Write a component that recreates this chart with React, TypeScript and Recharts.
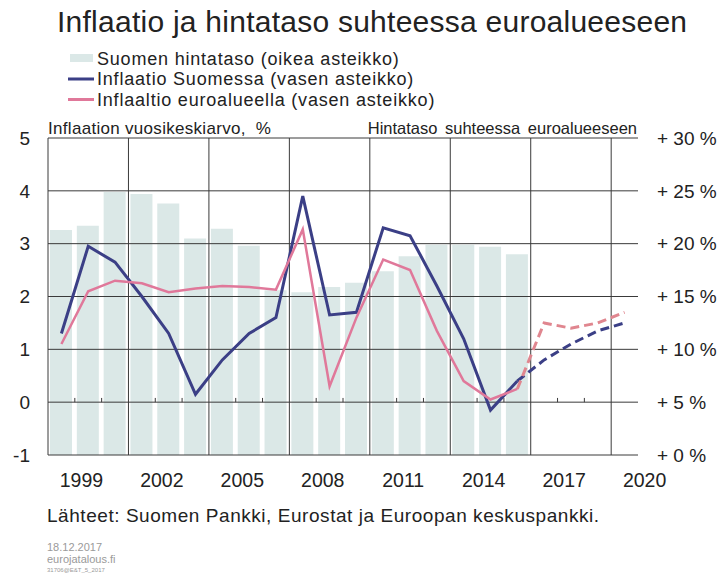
import React from "react";
import { ComposedChart, Bar, Line, XAxis, YAxis, ReferenceLine } from "recharts";

// Suomen hintataso suhteessa euroalueeseen (%), oikea asteikko
const YEARS = [1999, 2000, 2001, 2002, 2003, 2004, 2005, 2006, 2007, 2008, 2009, 2010, 2011, 2012, 2013, 2014, 2015, 2016];
const PRICE_LEVEL = [21.3, 21.7, 24.9, 24.7, 23.8, 20.5, 21.4, 19.8, 15.6, 15.4, 15.9, 16.3, 17.4, 18.8, 19.9, 19.9, 19.7, 19.0];
// inflaatio, vasen asteikko
const FI_INFLATION = [1.3, 2.95, 2.65, 2.0, 1.3, 0.15, 0.8, 1.3, 1.6, 3.9, 1.65, 1.7, 3.3, 3.15, 2.2, 1.2, -0.15, 0.4];
const EA_INFLATION = [1.1, 2.1, 2.3, 2.25, 2.08, 2.15, 2.2, 2.18, 2.13, 3.27, 0.3, 1.6, 2.7, 2.5, 1.35, 0.4, 0.05, 0.25];
// ennusteet (katkoviiva)
const FORECAST_YEARS = [2016, 2017, 2018, 2019, 2020];
const FI_FORECAST = [0.4, 0.8, 1.1, 1.35, 1.5];
const EA_FORECAST = [0.25, 1.5, 1.4, 1.5, 1.7];

const X_TICKS = [1999, 2002, 2005, 2008, 2011, 2014, 2017, 2020];
const LEFT_TICKS = [-1, 0, 1, 2, 3, 4, 5];
const RIGHT_TICKS = [0, 5, 10, 15, 20, 25, 30];
const GRID_YEARS = [1998.5, 2001.5, 2004.5, 2007.5, 2010.5, 2013.5, 2016.5, 2019.5];
const MINOR_TICK_YEARS = [1999.5, 2000.5, 2002.5, 2003.5, 2005.5, 2006.5, 2008.5, 2009.5, 2011.5, 2012.5, 2014.5, 2015.5, 2017.5, 2018.5];

const FONT = "'Liberation Sans', Arial, Helvetica, sans-serif";
const TEXT = "#222";
const FI_COLOR = "#3b3f86";
const EA_COLOR = "#e0789a";
const EA_DASH = "#e0868f";
const BAR_COLOR = "#dbe8e7";
const GRID = "#3a3a3a";

const allYears = Array.from(new Set([...YEARS, ...FORECAST_YEARS]));
const rows = allYears.map((year) => {
  const i = YEARS.indexOf(year);
  const f = FORECAST_YEARS.indexOf(year);
  return {
    year,
    level: i >= 0 ? PRICE_LEVEL[i] : undefined,
    fi: i >= 0 ? FI_INFLATION[i] : undefined,
    ea: i >= 0 ? EA_INFLATION[i] : undefined,
    fiF: f >= 0 ? FI_FORECAST[f] : undefined,
    eaF: f >= 0 ? EA_FORECAST[f] : undefined,
  };
});

function YearTick({ x, y, payload }: any) {
  return (
    <text
      x={x + 20}
      y={y}
      textAnchor="middle"
      dominantBaseline="central"
      fontSize={19.5}
      fontFamily={FONT}
      fill={TEXT}
    >
      {payload.value}
    </text>
  );
}

function Overlay() {
  const legend = [
    { label: "Suomen hintataso (oikea asteikko)", kind: "bar", color: BAR_COLOR },
    { label: "Inflaatio Suomessa (vasen asteikko)", kind: "line", color: FI_COLOR },
    { label: "Inflaaltio euroalueella (vasen asteikko)", kind: "line", color: EA_COLOR },
  ];
  return (
    <svg
      width={723}
      height={582}
      style={{ position: "absolute", left: 0, top: 0, pointerEvents: "none" }}
      fontFamily={FONT}
    >
      <text x={57} y={32} fontSize={30} letterSpacing={0.25} fill={TEXT}>
        Inflaatio ja hintataso suhteessa euroalueeseen
      </text>
      {legend.map((item, i) => (
        <g key={item.label}>
          {item.kind === "bar" ? (
            <rect x={70} y={54 + i * 20.5} width={23} height={8} fill={item.color} />
          ) : (
            <rect x={68} y={57 + i * 20.5} width={26} height={3} fill={item.color} />
          )}
          <text x={97} y={64.5 + i * 20.5} fontSize={18} letterSpacing={0.8} fill={TEXT}>
            {item.label}
          </text>
        </g>
      ))}
      <text x={48} y={134} fontSize={17} letterSpacing={0.3} fill={TEXT} style={{ whiteSpace: "pre" }}>
        {"Inflaation vuosikeskiarvo,  %"}
      </text>
      <text x={637} y={134} fontSize={16.5} wordSpacing={3} textAnchor="end" fill={TEXT}>
        Hintataso suhteessa euroalueeseen
      </text>
      <text x={47} y={521.5} fontSize={19} letterSpacing={0.55} fill={TEXT}>
        Lähteet: Suomen Pankki, Eurostat ja Euroopan keskuspankki.
      </text>
      <text x={47} y={550.5} fontSize={11} fill="#9a9a9a">
        18.12.2017
      </text>
      <text x={47} y={562.5} fontSize={11} fill="#9a9a9a">
        eurojatalous.fi
      </text>
      <text x={47} y={572} fontSize={6} fill="#9a9a9a">
        31706@E&amp;T_5_2017
      </text>
    </svg>
  );
}

export default function App() {
  return (
    <div style={{ position: "absolute", left: 0, top: 0, width: 723, height: 582, background: "#fff" }}>
      <ComposedChart
        width={723}
        height={582}
        data={rows}
        margin={{ top: 138, right: 0, bottom: 97, left: 8 }}
      >
        <XAxis
          dataKey="year"
          type="number"
          domain={[1998.5, 2020.5]}
          ticks={X_TICKS}
          allowDataOverflow
          axisLine={false}
          tickLine={false}
          tickSize={0}
          tickMargin={25}
          height={30}
          tick={<YearTick />}
        />
        <YAxis
          yAxisId="left"
          orientation="left"
          domain={[-1, 5]}
          ticks={LEFT_TICKS}
          width={40}
          axisLine={false}
          tickLine={false}
          tickSize={0}
          tickMargin={18}
          tick={{ fontSize: 19, fill: TEXT, fontFamily: FONT }}
        />
        <YAxis
          yAxisId="right"
          orientation="right"
          domain={[0, 30]}
          ticks={RIGHT_TICKS}
          width={85}
          axisLine={false}
          tickLine={false}
          tickSize={0}
          tickMargin={19}
          tickFormatter={(v: number) => `+ ${v} %`}
          tick={{ fontSize: 19, fill: TEXT, fontFamily: FONT, textAnchor: "start" }}
        />
        <Bar
          yAxisId="right"
          dataKey="level"
          fill={BAR_COLOR}
          barSize={22}
          isAnimationActive={false}
        />
        {LEFT_TICKS.map((v) => (
          <ReferenceLine key={`h${v}`} yAxisId="left" y={v} stroke={GRID} strokeWidth={1} />
        ))}
        {GRID_YEARS.map((x) => (
          <ReferenceLine key={`v${x}`} yAxisId="left" x={x} stroke={GRID} strokeWidth={1} />
        ))}
        {MINOR_TICK_YEARS.map((x) => (
          <ReferenceLine
            key={`m${x}`}
            yAxisId="left"
            segment={[{ x, y: 0 }, { x, y: 0.08 }]}
            stroke={GRID}
            strokeWidth={1}
          />
        ))}
        <Line
          yAxisId="left"
          dataKey="fi"
          stroke={FI_COLOR}
          strokeWidth={3}
          dot={false}
          isAnimationActive={false}
        />
        <Line
          yAxisId="left"
          dataKey="ea"
          stroke={EA_COLOR}
          strokeWidth={2.5}
          dot={false}
          isAnimationActive={false}
        />
        <Line
          yAxisId="left"
          dataKey="fiF"
          stroke={FI_COLOR}
          strokeWidth={3}
          strokeDasharray="9 5"
          dot={false}
          isAnimationActive={false}
        />
        <Line
          yAxisId="left"
          dataKey="eaF"
          stroke={EA_DASH}
          strokeWidth={3}
          strokeDasharray="9 5"
          dot={false}
          isAnimationActive={false}
        />
      </ComposedChart>
      <Overlay />
    </div>
  );
}
